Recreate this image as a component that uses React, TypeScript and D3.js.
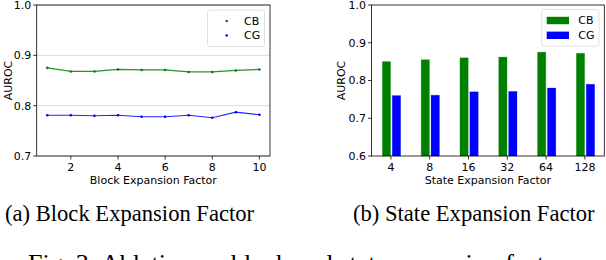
import React from 'react';
import * as d3 from 'd3';

// block expansion factor (left plot)
const blockFactors = [1, 2, 3, 4, 5, 6, 7, 8, 9, 10];
const blockCB = [0.875, 0.868, 0.868, 0.872, 0.871, 0.871, 0.867, 0.867, 0.87, 0.872];
const blockCG = [0.781, 0.781, 0.78, 0.781, 0.778, 0.778, 0.781, 0.776, 0.787, 0.782];
const blockXTicks = [2, 4, 6, 8, 10];
const blockYTicks = [0.7, 0.8, 0.9, 1.0];

// state expansion factor (right plot)
const stateFactors = ['4', '8', '16', '32', '64', '128'];
const stateCB = [0.85, 0.855, 0.86, 0.862, 0.875, 0.872];
const stateCG = [0.76, 0.761, 0.77, 0.771, 0.78, 0.79];
const stateYTicks = [0.6, 0.7, 0.8, 0.9, 1.0];

const seriesNames = ['CB', 'CG'];
const seriesColors = ['#008000', '#0000ff'];

const FONT = 'DejaVu Sans, sans-serif';
const SERIF = 'Liberation Serif, Times New Roman, serif';

const top = 5;
const bottom = 156;

const LeftChart = () => {
  const left = 36.7;
  const right = 270;
  const x = d3.scaleLinear().domain([0.55, 10.45]).range([left, right]);
  const y = d3.scaleLinear().domain([0.7, 1.0]).range([bottom, top]);
  const line = d3.line<number>()
    .x((_, i) => x(blockFactors[i]))
    .y(d => y(d));

  return (
    <g>
      {blockYTicks.map(t => (
        <line key={'g' + t} x1={left} x2={right} y1={y(t)} y2={y(t)} stroke="#d0d0d0" strokeWidth={0.8} />
      ))}
      {[blockCB, blockCG].map((s, k) => (
        <g key={k}>
          <path d={line(s) || ''} fill="none" stroke={seriesColors[k]} strokeWidth={1.2} strokeOpacity={0.85} />
          {s.map((v, i) => (
            <circle key={i} cx={x(blockFactors[i])} cy={y(v)} r={1.3} fill={seriesColors[k]} />
          ))}
        </g>
      ))}
      <rect x={left} y={top} width={right - left} height={bottom - top} fill="none" stroke="#000" strokeWidth={0.8} />
      {blockYTicks.map(t => (
        <g key={'y' + t}>
          <line x1={left - 3.5} x2={left} y1={y(t)} y2={y(t)} stroke="#000" strokeWidth={0.8} />
          <text x={left - 5.5} y={y(t)} dy="0.36em" textAnchor="end" fontSize={11} fontFamily={FONT}>{t.toFixed(1)}</text>
        </g>
      ))}
      {blockXTicks.map(t => (
        <g key={'x' + t}>
          <line x1={x(t)} x2={x(t)} y1={bottom} y2={bottom + 3.5} stroke="#000" strokeWidth={0.8} />
          <text x={x(t)} y={bottom + 15} textAnchor="middle" fontSize={11} fontFamily={FONT}>{t}</text>
        </g>
      ))}
      <text x={(left + right) / 2} y={183.5} textAnchor="middle" fontSize={11} fontFamily={FONT}>Block Expansion Factor</text>
      <text transform={`translate(11.5,${(top + bottom) / 2}) rotate(-90)`} textAnchor="middle" fontSize={11} fontFamily={FONT}>AUROC</text>
      <rect x={207.5} y={10} width={57} height={36.5} rx={2.5} fill="#fff" fillOpacity={0.8} stroke="#d8d8d8" strokeWidth={0.8} />
      {seriesNames.map((n, k) => (
        <g key={n}>
          <circle cx={226.7} cy={21 + k * 14.5} r={1.3} fill={seriesColors[k]} />
          <text x={244} y={21 + k * 14.5} dy="0.36em" fontSize={11} fontFamily={FONT}>{n}</text>
        </g>
      ))}
    </g>
  );
};

const RightChart = () => {
  const left = 371.5;
  const right = 604.3;
  const x = d3.scaleLinear().domain([-0.5, stateFactors.length - 0.5]).range([left, right]);
  const y = d3.scaleLinear().domain([0.6, 1.0]).range([bottom, top]);
  const barOffsets = [[-0.22, -0.008], [0.035, 0.25]];

  return (
    <g>
      {[stateCB, stateCG].map((s, k) => (
        <g key={k}>
          {s.map((v, i) => (
            <rect key={i} x={x(i + barOffsets[k][0])} y={y(v)} width={x(i + barOffsets[k][1]) - x(i + barOffsets[k][0])}
              height={bottom - y(v)} fill={seriesColors[k]} stroke={seriesColors[k]} strokeOpacity={0.35} strokeWidth={0.8} />
          ))}
        </g>
      ))}
      <rect x={left} y={top} width={right - left} height={bottom - top} fill="none" stroke="#000" strokeWidth={0.8} />
      {stateYTicks.map(t => (
        <g key={'y' + t}>
          <line x1={left - 3.5} x2={left} y1={y(t)} y2={y(t)} stroke="#000" strokeWidth={0.8} />
          <text x={left - 5.5} y={y(t)} dy="0.36em" textAnchor="end" fontSize={11} fontFamily={FONT}>{t.toFixed(1)}</text>
        </g>
      ))}
      {stateFactors.map((t, i) => (
        <g key={'x' + t}>
          <line x1={x(i)} x2={x(i)} y1={bottom} y2={bottom + 3.5} stroke="#000" strokeWidth={0.8} />
          <text x={x(i)} y={bottom + 15} textAnchor="middle" fontSize={11} fontFamily={FONT}>{t}</text>
        </g>
      ))}
      <text x={(left + right) / 2} y={183.5} textAnchor="middle" fontSize={11} fontFamily={FONT}>State Expansion Factor</text>
      <text transform={`translate(345,${(top + bottom) / 2}) rotate(-90)`} textAnchor="middle" fontSize={11} fontFamily={FONT}>AUROC</text>
      <rect x={541.7} y={9.5} width={57.3} height={36.5} rx={2.5} fill="#fff" fillOpacity={0.8} stroke="#d8d8d8" strokeWidth={0.8} />
      {seriesNames.map((n, k) => (
        <g key={n}>
          <rect x={546.7} y={16.8 + k * 14.8} width={22.3} height={7.4} fill={seriesColors[k]} />
          <text x={578.3} y={20.5 + k * 14.8} dy="0.36em" fontSize={11} fontFamily={FONT}>{n}</text>
        </g>
      ))}
    </g>
  );
};

export default function App() {
  return (
    <svg width={606} height={260} style={{ position: 'absolute', left: 0, top: 0, background: '#fff' }}>
      <LeftChart />
      <RightChart />
      <text x={5} y={221} fontSize={22.6} fontFamily={SERIF}>(a) Block Expansion Factor</text>
      <text x={353} y={221} fontSize={22.6} fontFamily={SERIF}>(b) State Expansion Factor</text>
      <text x={28} y={272} fontSize={26} fontFamily={SERIF}>Fig. 3: Ablation on block and state expansion factors.</text>
    </svg>
  );
}
